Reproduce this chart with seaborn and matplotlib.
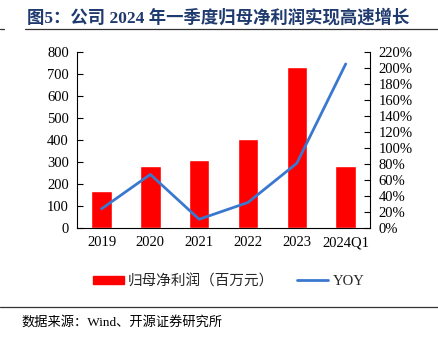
import matplotlib
matplotlib.use("Agg")
import matplotlib.pyplot as plt
import seaborn as sns
import pandas as pd
from matplotlib.lines import Line2D
from matplotlib.patches import Patch
from matplotlib.ticker import FuncFormatter, MultipleLocator

categories = ["2019", "2020", "2021", "2022", "2023", "2024Q1"]
profit = [167, 282, 307, 403, 730, 282]
yoy = [24, 67, 11, 32, 81, 205]
title = "图5：公司 2024 年一季度归母净利润实现高速增长"
bar_label = "归母净利润（百万元）"
line_label = "YOY"
source = "数据来源：Wind、开源证券研究所"

sns.set_theme(style="white")
plt.rcParams["font.family"] = ["Liberation Serif", "Noto Sans CJK SC", "DejaVu Sans"]

df = pd.DataFrame({"cat": categories, "profit": profit, "yoy": yoy})

fig = plt.figure(figsize=(4.38, 3.44), dpi=100)
ax = fig.add_axes([0.176, 0.337, 0.669, 0.512])
sns.barplot(data=df, x="cat", y="profit", color="#FF0000", saturation=1, width=0.42, ax=ax)
ax.set_ylim(0, 800)
ax.set_xlim(-0.5, 5.5)
ax.yaxis.set_major_locator(MultipleLocator(100))
ax.set_xlabel("")
ax.set_ylabel("")

ax2 = ax.twinx()
sns.lineplot(x=list(range(len(categories))), y=df["yoy"], color="#3A78D0", lw=2, ax=ax2)
ax2.set_ylim(0, 220)
ax2.yaxis.set_major_locator(MultipleLocator(20))
ax2.yaxis.set_major_formatter(FuncFormatter(lambda v, p: f"{v:.0f}%"))
ax2.set_ylabel("")

for a in (ax, ax2):
    for s in a.spines.values():
        s.set_visible(False)
    a.tick_params(labelsize=10.5, colors="black", length=0)
ax.spines["left"].set_visible(True)
ax.spines["bottom"].set_visible(True)
ax2.spines["right"].set_visible(True)
for s in (ax.spines["left"], ax.spines["bottom"], ax2.spines["right"]):
    s.set_color("black")
    s.set_linewidth(0.8)
ax.tick_params(axis="y", direction="in", length=4, width=0.8, left=True, pad=6)
ax2.tick_params(axis="y", direction="in", length=4, width=0.8, right=True, pad=6)
ax.tick_params(axis="x", length=0, pad=6)

handles = [Patch(color="#FF0000"), Line2D([0], [0], color="#3A78D0", lw=2)]
fig.legend(handles, [bar_label, line_label], loc="center", bbox_to_anchor=(0.522, 0.183),
           ncol=2, frameon=False, fontsize=10.5, handlelength=2.1, handleheight=0.55,
           columnspacing=1.6, handletextpad=0.3)

fig.text(0.062, 0.947, title, fontsize=12.5, fontweight="bold", color="#1F3A6E",
         va="center", ha="left")
fig.add_artist(Line2D([0.057, 1.0], [0.916, 0.916], color="#333333", lw=0.9))
fig.add_artist(Line2D([0.0, 0.008], [0.916, 0.916], color="#333333", lw=0.9))
fig.add_artist(Line2D([0.0, 1.0], [0.108, 0.108], color="#333333", lw=0.9))
fig.text(0.05, 0.064, source, fontsize=9.5, color="black", va="center", ha="left")

fig.savefig("out.png", dpi=100)
